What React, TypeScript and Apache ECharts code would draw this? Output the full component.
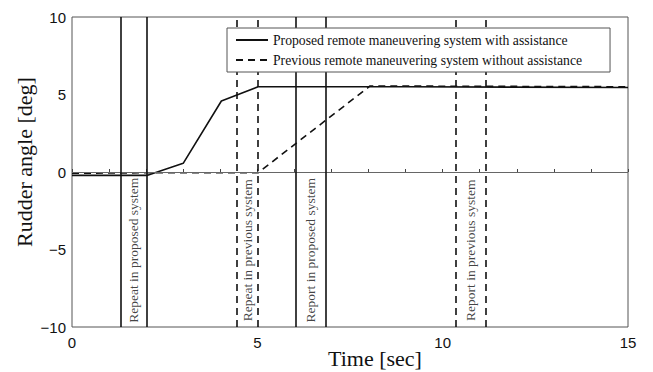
import React, { useEffect, useRef } from "react";
import * as echarts from "echarts";

const proposedName = "Proposed remote maneuvering system with assistance";
const previousName = "Previous remote maneuvering system without assistance";

const proposedTime = [0, 2.02, 3.0, 4.03, 5.02, 9.0, 15];
const proposedAngle = [-0.22, -0.22, 0.56, 4.58, 5.5, 5.5, 5.45];

const previousTime = [0, 2.0, 5.02, 8.04, 15];
const previousAngle = [-0.08, -0.05, -0.05, 5.55, 5.5];

const solidEventTimes = [1.32, 2.02, 6.03, 6.84];
const dashedEventTimes = [4.44, 5.02, 10.36, 11.15];

const eventLabelTimes = [1.67, 4.73, 6.43, 10.75];
const eventLabelAngle = -5.05;
const eventLabels = [
  "Repeat in proposed system",
  "Repeat in previous system",
  "Report in proposed system",
  "Report in previous system",
];

const xTitle = "Time [sec]";
const yTitle = "Rudder angle [deg]";

const SERIF = "Liberation Serif";
const SANS = "Liberation Sans";
const INK = "#111";

export default function App() {
  const ref = useRef<HTMLDivElement>(null);
  useEffect(() => {
    if (!ref.current) return;
    const chart = echarts.init(ref.current, undefined, { renderer: "svg" });
    const option: any = {
      animation: false,
      backgroundColor: "#fff",
      grid: {
        left: 72,
        top: 17,
        width: 556,
        height: 310,
        show: true,
        borderColor: "#555",
        borderWidth: 1,
        backgroundColor: "transparent",
      },
      legend: {
        data: [proposedName, previousName],
        orient: "vertical",
        left: 227,
        top: 28,
        padding: [5, 28, 5, 8],
        itemGap: 6,
        itemWidth: 32,
        itemHeight: 14,
        backgroundColor: "#fff",
        borderColor: "#555",
        borderWidth: 1,
        borderRadius: 0,
        itemStyle: { color: "rgba(0,0,0,0)", borderColor: "rgba(0,0,0,0)", borderWidth: 0 },
        textStyle: { fontFamily: SERIF, fontSize: 13.7, color: INK },
        z: 10,
      },
      xAxis: {
        type: "value",
        min: 0,
        max: 15,
        interval: 5,
        axisLine: { show: false },
        axisTick: { show: true, inside: true, length: 3, lineStyle: { color: "#444" } },
        minorTick: { show: true, splitNumber: 5, length: 3, lineStyle: { color: "#444" } },
        splitLine: { show: false },
        axisLabel: { fontFamily: SANS, fontSize: 15, color: INK, margin: 8 },
      },
      yAxis: {
        type: "value",
        min: -10,
        max: 10,
        interval: 5,
        axisLine: { show: false },
        axisTick: { show: false },
        splitLine: { show: false },
        axisLabel: {
          fontFamily: SANS,
          fontSize: 15,
          color: INK,
          margin: 6,
          formatter: (v: number) => String(v).replace("-", "\u2212"),
        },
      },
      series: [
        {
          name: "zero",
          type: "line",
          data: [],
          silent: true,
          markLine: {
            silent: true,
            symbol: ["none", "none"],
            label: { show: false },
            lineStyle: { color: "#666", width: 1, type: "solid" },
            data: [{ yAxis: 0 }],
          },
        },
        {
          name: "solidEvents",
          type: "line",
          data: [],
          silent: true,
          markLine: {
            silent: true,
            symbol: ["none", "none"],
            label: { show: false },
            lineStyle: { color: INK, width: 1.6, type: "solid" },
            data: solidEventTimes.map((t) => ({ xAxis: t })),
          },
        },
        {
          name: "dashedEvents",
          type: "line",
          data: [],
          silent: true,
          markLine: {
            silent: true,
            symbol: ["none", "none"],
            label: { show: false },
            lineStyle: { color: INK, width: 1.6, type: [7, 5] },
            data: dashedEventTimes.map((t) => ({ xAxis: t })),
          },
        },
        {
          name: proposedName,
          type: "line",
          symbol: "none",
          data: proposedTime.map((t, i) => [t, proposedAngle[i]]),
          lineStyle: { color: INK, width: 1.6, type: "solid" },
          itemStyle: { color: INK },
          z: 3,
        },
        {
          name: previousName,
          type: "line",
          symbol: "none",
          data: previousTime.map((t, i) => [t, previousAngle[i]]),
          lineStyle: { color: INK, width: 1.6, type: [7, 5] },
          itemStyle: { color: INK },
          z: 3,
        },
        {
          name: "eventLabels",
          type: "scatter",
          symbolSize: 0,
          silent: true,
          data: eventLabelTimes.map((t, i) => ({
            value: [t, eventLabelAngle],
            label: { formatter: eventLabels[i] },
          })),
          label: {
            show: true,
            position: "inside",
            rotate: 90,
            fontFamily: SERIF,
            fontSize: 13.5,
            color: INK,
          },
          z: 4,
        },
      ],
      graphic: [
        {
          type: "text",
          x: 24,
          y: 162,
          rotation: Math.PI / 2,
          style: {
            text: yTitle,
            fontFamily: SERIF,
            fontSize: 22,
            fill: INK,
            textAlign: "center",
            textVerticalAlign: "middle",
          },
        },
        {
          type: "text",
          x: 375,
          y: 358,
          style: {
            text: xTitle,
            fontFamily: SERIF,
            fontSize: 22,
            fill: INK,
            textAlign: "center",
            textVerticalAlign: "middle",
          },
        },
      ],
    };
    chart.setOption(option);
    return () => chart.dispose();
  }, []);
  return (
    <div
      ref={ref}
      style={{ position: "fixed", left: 0, top: 0, width: 653, height: 372, background: "#fff" }}
    />
  );
}
